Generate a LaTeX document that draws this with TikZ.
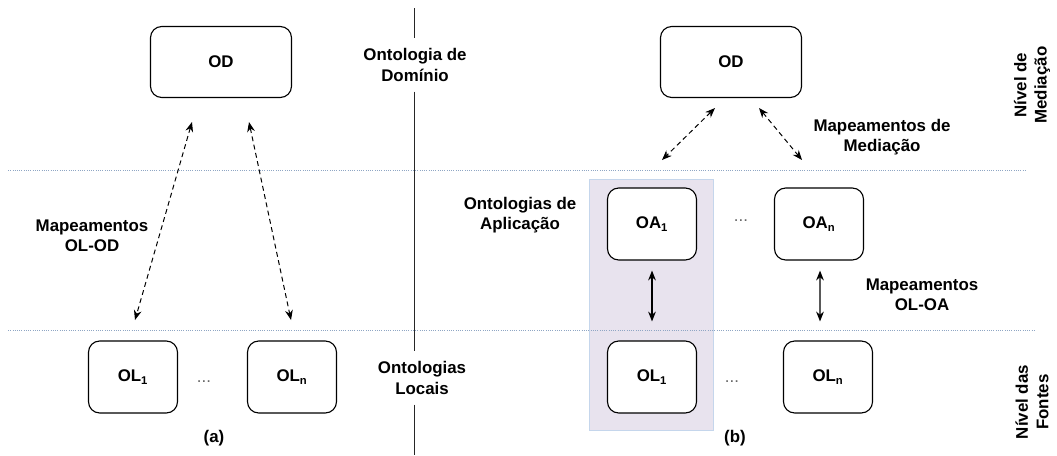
\documentclass[tikz,border=0pt]{standalone}
\usepackage{fontspec}
\setmainfont{Liberation Sans}
\usetikzlibrary{arrows.meta}

\definecolor{levelblue}{HTML}{8FA6C4}
\definecolor{appfill}{HTML}{E8E3EE}
\definecolor{appline}{HTML}{C5D6EC}

\tikzset{
  ontobig/.style = {draw, rounded corners=8pt, fill=white, line width=0.8pt,
                    minimum width=3.525cm, minimum height=1.775cm},
  ontosmall/.style = {draw, rounded corners=8pt, fill=white, line width=0.8pt,
                      minimum width=2.225cm, minimum height=1.8cm},
  txt/.style = {align=center, inner sep=1pt},
  sepgap/.style = {align=center, inner xsep=1pt, inner ysep=7pt},
  etc/.style = {font=\fontsize{12}{14}\selectfont\mdseries, text=black!60, inner sep=0pt},
  mapdash/.style = {<->, >={Stealth[length=7pt,width=5.5pt]}, line width=0.7pt,
                    dash pattern=on 3.5pt off 2.5pt},
  mapsolid/.style = {<->, >={Stealth[length=7pt,width=5.5pt]}, line width=0.8pt},
  levelsep/.style = {levelblue, densely dotted, line width=0.6pt},
  colsep/.style = {black!85, line width=0.6pt}
}

\begin{document}
\begin{tikzpicture}[x=0.025cm, y=-0.025cm, font=\fontsize{12}{14.5}\selectfont\bfseries]
            \useasboundingbox (0,0) rectangle (1057,455);

            % coluna das ontologias de aplicacao
            \draw[fill=appfill, draw=appline, line width=0.6pt] (589,179) rectangle (713,430);

            % niveis
            \draw[levelsep] (8,170) -- (1027,170);
            \draw[levelsep] (8,330) -- (1035,330);

            % (a)
            \node[ontobig] (odA) at (221,62) {OD};
            \node[ontosmall] (olA1) at (133,377) {OL\textsubscript{1}};
            \node[ontosmall] (olAn) at (292,377) {OL\textsubscript{n}};
            \node[etc] (etcA) at (204,382) {...};
            \node[txt] (mapOD) at (92,236) {Mapeamentos\\OL-OD};
            \node[txt] (capA) at (214,438) {(a)};

            \coordinate (odA1) at (192,122);
            \coordinate (olA1t) at (135,320);
            \coordinate (odA2) at (249,122);
            \coordinate (olAnt) at (291,320);
            \draw[mapdash] (odA1) -- (olA1t);
            \draw[mapdash] (odA2) -- (olAnt);

            % separador
            \node[sepgap] (ontDom) at (415,65) {Ontologia de\\Domínio};
            \node[sepgap] (ontLoc) at (422,378) {Ontologias\\Locais};
            \coordinate (sepTop) at (414,8);
            \coordinate (sepBot) at (414,455);
            \draw[colsep] (sepTop) -- (sepTop |- ontDom.north);
            \draw[colsep] (sepTop |- ontDom.south) -- (sepTop |- ontLoc.north);
            \draw[colsep] (sepTop |- ontLoc.south) -- (sepBot);

            % (b)
            \node[ontobig] (odB) at (731,62) {OD};
            \node[ontosmall] (oaB1) at (652,224) {OA\textsubscript{1}};
            \node[ontosmall] (oaBn) at (819,224) {OA\textsubscript{n}};
            \node[etc] (etcBa) at (741,221) {...};
            \node[ontosmall] (olB1) at (652,377) {OL\textsubscript{1}};
            \node[ontosmall] (olBn) at (828,377) {OL\textsubscript{n}};
            \node[etc] (etcBl) at (732,382) {...};
            \node[txt] (ontApl) at (520,215) {Ontologias de\\Aplicação};
            \node[txt] (mapMed) at (882,137) {Mapeamentos de\\Mediação};
            \node[txt] (mapOA) at (922,295) {Mapeamentos\\OL-OA};
            \node[txt] (capB) at (735,438) {(b)};

            \coordinate (odB1) at (715,108);
            \coordinate (oaB1t) at (662,160);
            \coordinate (odB2) at (759,108);
            \coordinate (oaBnt) at (802,160);
            \draw[mapdash] (odB1) -- (oaB1t);
            \draw[mapdash] (odB2) -- (oaBnt);

            \draw[mapsolid] ([yshift=-0.25cm]oaB1.south) -- ([yshift=0.475cm]olB1.north);
            \draw[mapsolid] ([xshift=0.025cm, yshift=-0.25cm]oaBn.south) -- ([xshift=-0.2cm, yshift=0.475cm]olBn.north);

            % niveis (rotulos)
            \node[txt, rotate=90] (nivMed) at (1032,85) {Nível de\\Mediação};
            \node[txt, rotate=90] (nivFon) at (1032,402) {Nível das\\Fontes};
        \end{tikzpicture}
\end{document}
